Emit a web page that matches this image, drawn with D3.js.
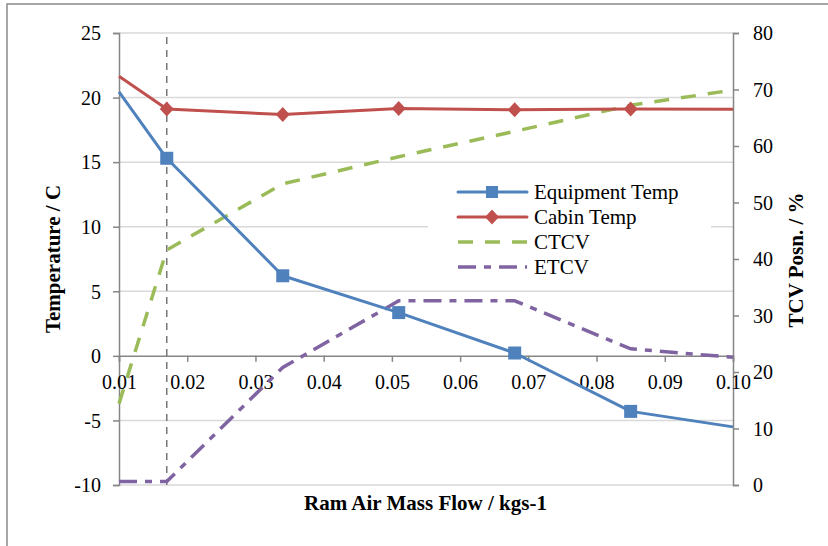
<!DOCTYPE html>
<html>
<head>
<meta charset="utf-8">
<script src="https://cdn.jsdelivr.net/npm/d3@7"></script>
<style>
  html, body { margin: 0; padding: 0; background: #fff; }
  svg { display: block; }
  svg text { font-family: 'Liberation Serif', 'Times New Roman', serif; fill: #000; }
</style>
</head>
<body>
<svg id="chart" width="828" height="546"></svg>
<script>
// Ram air mass flow (kg/s) at each test point
const massFlow = [0.01, 0.017, 0.034, 0.051, 0.068, 0.085, 0.10];
// Temperatures (C), left axis
const equipTemp = [20.45, 15.3, 6.2, 3.35, 0.22, -4.3, -5.5];
const cabinTemp = [21.65, 19.12, 18.68, 19.15, 19.05, 19.12, 19.1];
// Valve positions (%), right axis
const ctcv = [14.4, 41.6, 53.3, 58.1, 62.6, 67.2, 69.9];
const etcv = [0.6, 0.6, 20.8, 32.6, 32.6, 24.1, 22.6];

const xTicks = [0.01, 0.02, 0.03, 0.04, 0.05, 0.06, 0.07, 0.08, 0.09, 0.10];
const leftTicks = [-10, -5, 0, 5, 10, 15, 20, 25];
const rightTicks = [0, 10, 20, 30, 40, 50, 60, 70, 80];
const refFlow = 0.017;

const seriesNames = ["Equipment Temp", "Cabin Temp", "CTCV", "ETCV"];
const seriesColors = ["#4f81bd", "#c0504d", "#9bbb59", "#8064a2"];

const FONT = "'Liberation Serif', 'Times New Roman', serif";
const svg = d3.select("#chart");
const axisColor = "#868686";
const gridColor = "#d9d9d9";

// outer chart frame
svg.append("rect")
  .attr("x", 7).attr("y", 4).attr("width", 840).attr("height", 560)
  .attr("fill", "#fff").attr("stroke", "#8a8a8a").attr("stroke-width", 1.5);

const x = d3.scaleLinear().domain([0.01, 0.10]).range([119, 733]);
const yL = d3.scaleLinear().domain([-10, 25]).range([485, 33]);
const yR = d3.scaleLinear().domain([0, 80]).range([485, 33]);

// horizontal gridlines from the temperature axis
svg.append("g").selectAll("line")
  .data(leftTicks.filter(d => d !== 0))
  .join("line")
  .attr("x1", x(0.01)).attr("x2", x(0.10))
  .attr("y1", d => yL(d)).attr("y2", d => yL(d))
  .attr("stroke", gridColor).attr("stroke-width", 1.5);

const plainInt = d => String(d);

function styleAxis(g) {
  g.attr("font-family", FONT).attr("font-size", 20);
  g.select(".domain").attr("stroke", axisColor).attr("stroke-width", 1.5);
  g.selectAll(".tick line").attr("stroke", axisColor).attr("stroke-width", 1.5);
  g.selectAll(".tick text").attr("fill", "#000")
    .style("font-family", FONT).style("font-size", "20px");
}

// left axis
const gLeft = svg.append("g")
  .attr("transform", `translate(${x(0.01)},0)`)
  .call(d3.axisLeft(yL).tickValues(leftTicks).tickSize(6).tickPadding(12).tickFormat(plainInt));
styleAxis(gLeft);
gLeft.selectAll(".tick text").attr("dy", "0.34em");

// right axis
const gRight = svg.append("g")
  .attr("transform", `translate(${x(0.10)},0)`)
  .call(d3.axisRight(yR).tickValues(rightTicks).tickSize(6).tickPadding(14).tickFormat(plainInt));
styleAxis(gRight);
gRight.selectAll(".tick text").attr("dy", "0.34em");

// category axis crossing at zero temperature
const gBottom = svg.append("g")
  .attr("transform", `translate(0,${yL(0)})`)
  .call(d3.axisBottom(x).tickValues(xTicks).tickSize(6).tickPadding(13).tickFormat(d3.format(".2f")));
styleAxis(gBottom);

// reference line at the design flow
svg.append("line")
  .attr("x1", x(refFlow)).attr("x2", x(refFlow))
  .attr("y1", 37).attr("y2", yL(-10))
  .attr("stroke", "#777").attr("stroke-width", 1.5)
  .attr("stroke-dasharray", "7,6");

const idx = d3.range(massFlow.length);
const lineL = vals => d3.line().x(i => x(massFlow[i])).y(i => yL(vals[i]))(idx);
const lineR = vals => d3.line().x(i => x(massFlow[i])).y(i => yR(vals[i]))(idx);

// CTCV / ETCV
svg.append("path").attr("d", lineR(ctcv)).attr("fill", "none")
  .attr("stroke", seriesColors[2]).attr("stroke-width", 3.5).attr("stroke-dasharray", "15,12");
svg.append("path").attr("d", lineR(etcv)).attr("fill", "none")
  .attr("stroke", seriesColors[3]).attr("stroke-width", 3.5).attr("stroke-dasharray", "18,8,7,8");

// temperatures
svg.append("path").attr("d", lineL(cabinTemp)).attr("fill", "none")
  .attr("stroke", seriesColors[1]).attr("stroke-width", 3).attr("stroke-linejoin", "round");
svg.append("path").attr("d", lineL(equipTemp)).attr("fill", "none")
  .attr("stroke", seriesColors[0]).attr("stroke-width", 3).attr("stroke-linejoin", "round");

const inner = idx.slice(1, -1);
const diamond = (cx, cy) => `M${cx},${cy - 7.5}L${cx + 7},${cy}L${cx},${cy + 7.5}L${cx - 7},${cy}Z`;

svg.append("g").selectAll("path").data(inner).join("path")
  .attr("d", i => diamond(x(massFlow[i]), yL(cabinTemp[i])))
  .attr("fill", seriesColors[1]);
svg.append("g").selectAll("rect").data(inner).join("rect")
  .attr("x", i => x(massFlow[i]) - 6.5).attr("y", i => yL(equipTemp[i]) - 6.5)
  .attr("width", 13).attr("height", 13)
  .attr("fill", seriesColors[0]);

// legend
const lg = svg.append("g");
lg.append("rect").attr("x", 428).attr("y", 170).attr("width", 283).attr("height", 118).attr("fill", "#fff");
const rows = [192, 217, 242, 267];
const dashes = [null, null, "15,12", "18,8,7,8"];
seriesNames.forEach((name, k) => {
  const yy = rows[k];
  lg.append("line").attr("x1", 458).attr("x2", 527).attr("y1", yy).attr("y2", yy)
    .attr("stroke", seriesColors[k]).attr("stroke-width", k < 2 ? 3 : 3.5)
    .attr("stroke-linecap", k < 2 ? "round" : "butt")
    .attr("stroke-dasharray", dashes[k]);
  if (k === 0) {
    lg.append("rect").attr("x", 486).attr("y", yy - 6).attr("width", 12).attr("height", 12).attr("fill", seriesColors[0]);
  } else if (k === 1) {
    lg.append("path").attr("d", diamond(492, yy)).attr("fill", seriesColors[1]);
  }
  lg.append("text").attr("x", 534).attr("y", yy + 7).text(name)
    .style("font-family", FONT).style("font-size", "21px");
});

// axis titles
svg.append("text").attr("x", 425.5).attr("y", 510).attr("text-anchor", "middle")
  .style("font-family", FONT).style("font-size", "21px").style("font-weight", "bold")
  .text("Ram Air Mass Flow / kgs-1");
svg.append("text").attr("transform", "translate(60,259) rotate(-90)").attr("text-anchor", "middle")
  .style("font-family", FONT).style("font-size", "21px").style("font-weight", "bold")
  .text("Temperature / C");
svg.append("text").attr("transform", "translate(803,260) rotate(-90)").attr("text-anchor", "middle")
  .style("font-family", FONT).style("font-size", "21px").style("font-weight", "bold")
  .text("TCV Posn. / %");
</script>
</body>
</html>
